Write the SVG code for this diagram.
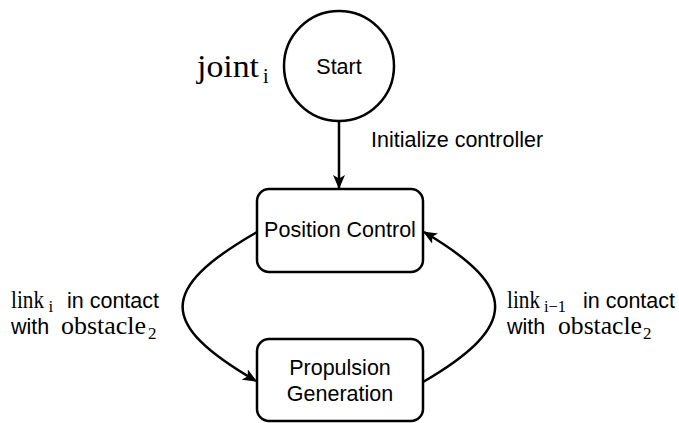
<svg xmlns="http://www.w3.org/2000/svg" width="679" height="423" viewBox="0 0 679 423">
  <style>
    .shape { fill: #ffffff; stroke: #000000; stroke-width: 2.5; }
    .edge { fill: none; stroke: #000000; stroke-width: 2.5; }
    .sans { font-family: "Liberation Sans", Arial, Helvetica, sans-serif; font-size: 21.5px; fill: #000000; }
    .math { font-family: "Liberation Serif", "Times New Roman", serif; font-size: 25px; fill: #000000; }
    .sub { font-family: "Liberation Serif", "Times New Roman", serif; font-size: 17px; fill: #000000; }
  </style>
  <defs>
    <marker id="arrow" viewBox="0 0 14 12" refX="13" refY="6" markerWidth="14" markerHeight="12" markerUnits="userSpaceOnUse" orient="auto">
      <path d="M0,0 L14,6 L0,12 L3.5,6 Z" fill="#000000"/>
    </marker>
  </defs>
  <rect width="679" height="423" fill="#ffffff"/>

  <!-- connectors -->
  <g id="edges">
    <path class="edge" d="M339,121 L339,188" marker-end="url(#arrow)"/>
    <path class="edge" d="M257,232 C158,289 158,324 256,381" marker-end="url(#arrow)"/>
    <path class="edge" d="M423,382 C519,326 519,288 424,232" marker-end="url(#arrow)"/>
  </g>

  <!-- start node -->
  <g id="start">
    <circle class="shape" cx="339" cy="66" r="55"/>
    <text class="sans" x="339" y="74" text-anchor="middle">Start</text>
  </g>

  <!-- position control node -->
  <g id="position-control">
    <rect class="shape" x="257" y="189" width="166" height="83" rx="12" ry="12"/>
    <text class="sans" x="340" y="237" text-anchor="middle">Position Control</text>
  </g>

  <!-- propulsion generation node -->
  <g id="propulsion-generation">
    <rect class="shape" x="257" y="339" width="166" height="82" rx="12" ry="12"/>
    <text class="sans" x="340" y="375" text-anchor="middle">Propulsion</text>
    <text class="sans" x="340" y="401" text-anchor="middle">Generation</text>
  </g>

  <!-- labels: serif runs are math symbols, with subscripts -->
  <g id="labels">
    <text x="197" y="77"><tspan class="math" style="font-size:32px" textLength="62" lengthAdjust="spacingAndGlyphs">joint</tspan><tspan class="sub" x="263" y="83" style="font-size:20px">i</tspan></text>

    <text class="sans" x="371" y="147">Initialize controller</text>

    <text x="11" y="308"><tspan class="math" textLength="33" lengthAdjust="spacingAndGlyphs">link</tspan><tspan class="sub" x="48.5" y="311.5">i</tspan><tspan class="sans" x="67" y="308">in contact</tspan></text>
    <text x="11" y="334"><tspan class="sans">with</tspan><tspan class="math" x="61" textLength="85" lengthAdjust="spacingAndGlyphs">obstacle</tspan><tspan class="sub" x="148" y="339">2</tspan></text>

    <text x="507" y="308"><tspan class="math" textLength="33" lengthAdjust="spacingAndGlyphs">link</tspan><tspan class="sub" x="544" y="311.5" textLength="22" lengthAdjust="spacingAndGlyphs">i−1</tspan><tspan class="sans" x="583" y="308">in contact</tspan></text>
    <text x="507" y="334"><tspan class="sans">with</tspan><tspan class="math" x="558" textLength="84" lengthAdjust="spacingAndGlyphs">obstacle</tspan><tspan class="sub" x="643" y="339">2</tspan></text>
  </g>
</svg>
